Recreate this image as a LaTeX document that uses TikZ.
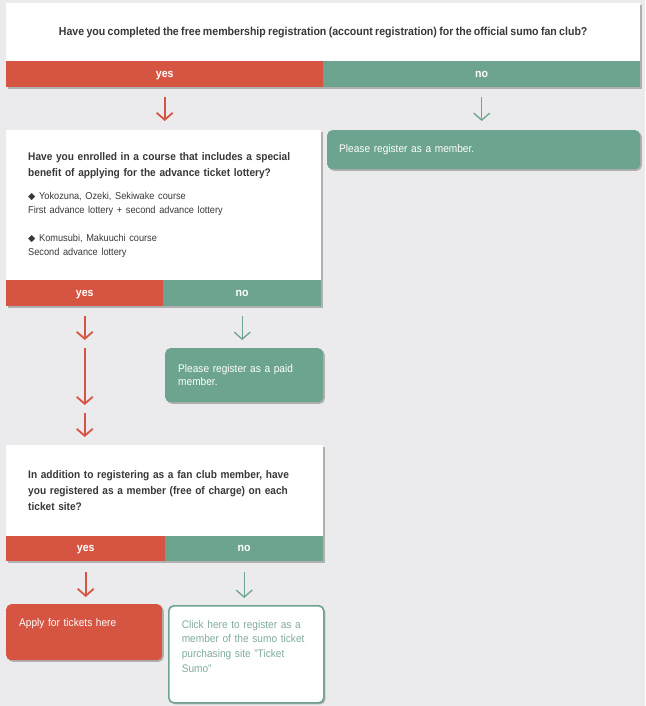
\documentclass[tikz,border=0pt]{standalone}
\usepackage{fontspec}
\setmainfont{Liberation Sans}[FakeStretch=0.92,WordSpace=0.8]
\newfontfamily\symfont{DejaVu Sans}
\usetikzlibrary{arrows.meta,shadows}
\definecolor{bg}{HTML}{EBEBED}
\definecolor{sred}{HTML}{D65542}
\definecolor{sgreen}{HTML}{6CA48F}
\definecolor{txt}{HTML}{383838}
\definecolor{ltgreen}{HTML}{80AB9C}
\newcommand{\qfont}{\fontsize{11}{15.5}\selectfont\bfseries}
\newcommand{\bfont}{\fontsize{10}{14}\selectfont\mdseries}
\newcommand{\dmd}{{\symfont\fontsize{9.5}{14}\selectfont ◆}}
\begin{document}
\begin{tikzpicture}[x=1pt,y=-1pt,
  shad/.style={drop shadow={shadow xshift=1.6pt,shadow yshift=-1.6pt,opacity=0.25,fill=black}},
  qbox/.style={shad,fill=white,inner sep=0,anchor=north west,text=txt,font=\qfont},
  bar/.style={shad,inner sep=0,minimum height=#1,text depth=0pt,anchor=north west,text=white,font=\fontsize{11.5}{12}\selectfont\bfseries},
  yesbar/.style={bar=#1,fill=sred},
  nobar/.style={bar=#1,fill=sgreen},
  gbox/.style={shad,fill=sgreen,rounded corners=5pt,inner ysep=0,anchor=north west,text=white,align=left,font=\fontsize{11}{13.5}\selectfont},
  rbox/.style={shad,fill=sred,rounded corners=5pt,inner ysep=0,anchor=north west,text=white,align=left,font=\fontsize{11}{13.5}\selectfont},
  wbox/.style={shad,fill=white,draw=sgreen,line width=1.6pt,rounded corners=5pt,inner ysep=0,anchor=north west,text=ltgreen,align=left,font=\fontsize{11}{14.7}\selectfont},
  rarr/.style={draw=sred,line width=1.8pt,-{Straight Barb[length=7pt,width=16pt]}},
  garr/.style={draw=sgreen,line width=1.3pt,-{Straight Barb[length=7pt,width=16pt]}}
]
\useasboundingbox (0,0) rectangle (645,706);
\fill[bg] (0,0) rectangle (645,706);

% question 1
\node[qbox,minimum width=634,minimum height=58,font=\fontsize{11.5}{15.5}\selectfont\bfseries] (q1) at (6,3)
  {Have you completed the free membership registration (account registration) for the official sumo fan club?};
\node[yesbar=26,minimum width=317] (yes1) at (6,61) {yes};
\node[nobar=26,minimum width=317] (no1) at (323,61) {no};

% member box
\node[gbox,inner xsep=12,text width=289,minimum height=39] (m1) at (327,130) {Please register as a member.};

% question 2
\node[qbox,inner xsep=22,text width=271,minimum height=150,align=left] (q2) at (6,130)
  {Have you enrolled in a course that includes a special\\ benefit of applying for the advance ticket lottery?\par
   \vspace{9pt}{\bfont\dmd\ Yokozuna, Ozeki, Sekiwake course\\ First advance lottery + second advance lottery\par}
   \vspace{14pt}{\bfont\dmd\ Komusubi, Makuuchi course\\ Second advance lottery\par}};
\node[yesbar=26,minimum width=157] (yes2) at (6,280) {yes};
\node[nobar=26,minimum width=158] (no2) at (163,280) {no};

% paid member box
\node[gbox,inner xsep=13,text width=132,minimum height=54] (m2) at (165,348) {Please register as a paid\\ member.};

% question 3
\node[qbox,inner xsep=22,text width=273,minimum height=91,align=left,font=\fontsize{11}{16}\selectfont\bfseries] (q3) at (6,445)
  {In addition to registering as a fan club member, have\\ you registered as a member (free of charge) on each\\ ticket site?};
\node[yesbar=25,minimum width=159] (yes3) at (6,536) {yes};
\node[nobar=25,minimum width=158] (no3) at (165,536) {no};

% result boxes
\node[rbox,inner xsep=13,text width=130,minimum height=56] (a3) at (6,604) {Apply for tickets here\par\vspace*{18pt}};
\node[wbox,inner xsep=13,text width=129,minimum height=97] (n3) at (168,605)
  {Click here to register as a\\ member of the sumo ticket\\ purchasing site "Ticket\\ Sumo"\par\vspace*{16pt}};

% connectors
\coordinate (r1) at (yes2.south |- 0,344);
\coordinate (r2) at (yes2.south |- 0,409);
\draw[rarr,shorten <=10pt,shorten >=9pt] (yes1.south) -- (yes1.south |- q2.north);
\draw[garr,shorten <=10pt,shorten >=9pt] (no1.south) -- (no1.south |- m1.north);
\draw[rarr,shorten <=10pt,shorten >=4pt] (yes2.south) -- (r1);
\draw[rarr,shorten <=4pt,shorten >=4pt] (r1) -- (r2);
\draw[rarr,shorten <=4pt,shorten >=8pt] (r2) -- (yes2.south |- q3.north);
\draw[garr,shorten <=10pt,shorten >=8pt] (no2.south) -- (no2.south |- m2.north);
\draw[rarr,shorten <=11pt,shorten >=7pt] (yes3.south) -- (yes3.south |- a3.north);
\draw[garr,shorten <=11pt,shorten >=7pt] (no3.south) -- (no3.south |- n3.north);
\end{tikzpicture}
\end{document}
